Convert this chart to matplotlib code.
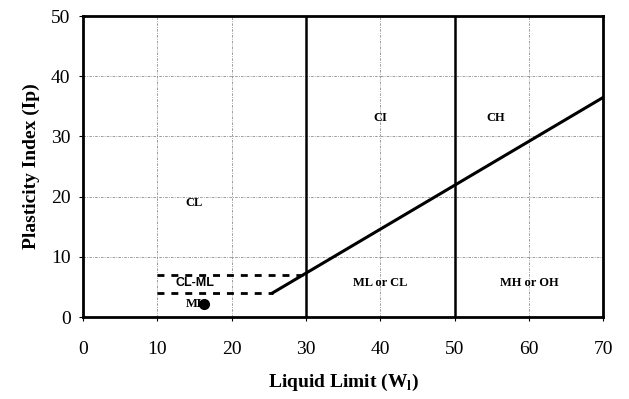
import numpy as np
import matplotlib.pyplot as plt

plt.rcParams['font.family'] = ['Liberation Serif', 'DejaVu Serif']

# A-line end points (liquid limit, plasticity index)
aline_wl = [25.5, 70]
aline_ip = [4.0, 36.5]

# boundaries of the CL-ML strip
strip_ip = [4, 7]
strip_start = 10
strip_ends = [25.5, 30]

# liquid limit boundaries
wl_bounds = [30, 50]

# sample point
sample_wl = [16.3]
sample_ip = [2.2]

zones = ["CL", "CL-ML", "CI", "CH", "ML or CL", "MH or OH"]
zone_x = [15, 15, 40, 55.5, 40, 60]
zone_y = [19, 5.6, 33, 33, 5.6, 5.6]

fig = plt.figure(figsize=(6.29, 3.99), dpi=100)
ax = fig.add_axes([0.132, 0.2055, 0.827, 0.754])

ax.grid(True, color="#8a8a8a", linestyle=(0, (3, 1.5, 1, 1.5)), linewidth=0.6)
ax.set_xlim(0, 70)
ax.set_ylim(0, 50)
ax.set_xticks(np.arange(0, 71, 10))
ax.set_yticks(np.arange(0, 51, 10))
ax.tick_params(labelsize=14, length=3, direction="out", pad=14)
ax.tick_params(axis="y", pad=6)
for s in ax.spines.values():
    s.set_linewidth(2)

ax.plot(aline_wl, aline_ip, color="black", linewidth=2.2)
for w in wl_bounds:
    ax.axvline(w, color="black", linewidth=1.8)
for ip, end in zip(strip_ip, strip_ends):
    ax.plot([strip_start, end], [ip, ip], color="black", linewidth=2,
            linestyle=(0, (2.5, 2.5)))

ax.plot(sample_wl, sample_ip, "o", color="black", markersize=7)

for name, x, y in zip(zones, zone_x, zone_y):
    fam = ["Liberation Sans"] if name == "CL-ML" else ["Liberation Serif"]
    ax.text(x, y, name, ha="center", va="center", fontsize=9,
            fontweight="bold", family=fam)
ax.text(15.2, 2.2, "ML", ha="center", va="center", fontsize=9,
        fontweight="bold")

ax.set_xlabel("Liquid Limit (W$_\\mathregular{l}$)", fontsize=14,
              fontweight="bold", labelpad=10)
ax.set_ylabel("Plasticity Index (Ip)", fontsize=14, fontweight="bold",
              labelpad=8)

fig.savefig("out.png", dpi=100)
